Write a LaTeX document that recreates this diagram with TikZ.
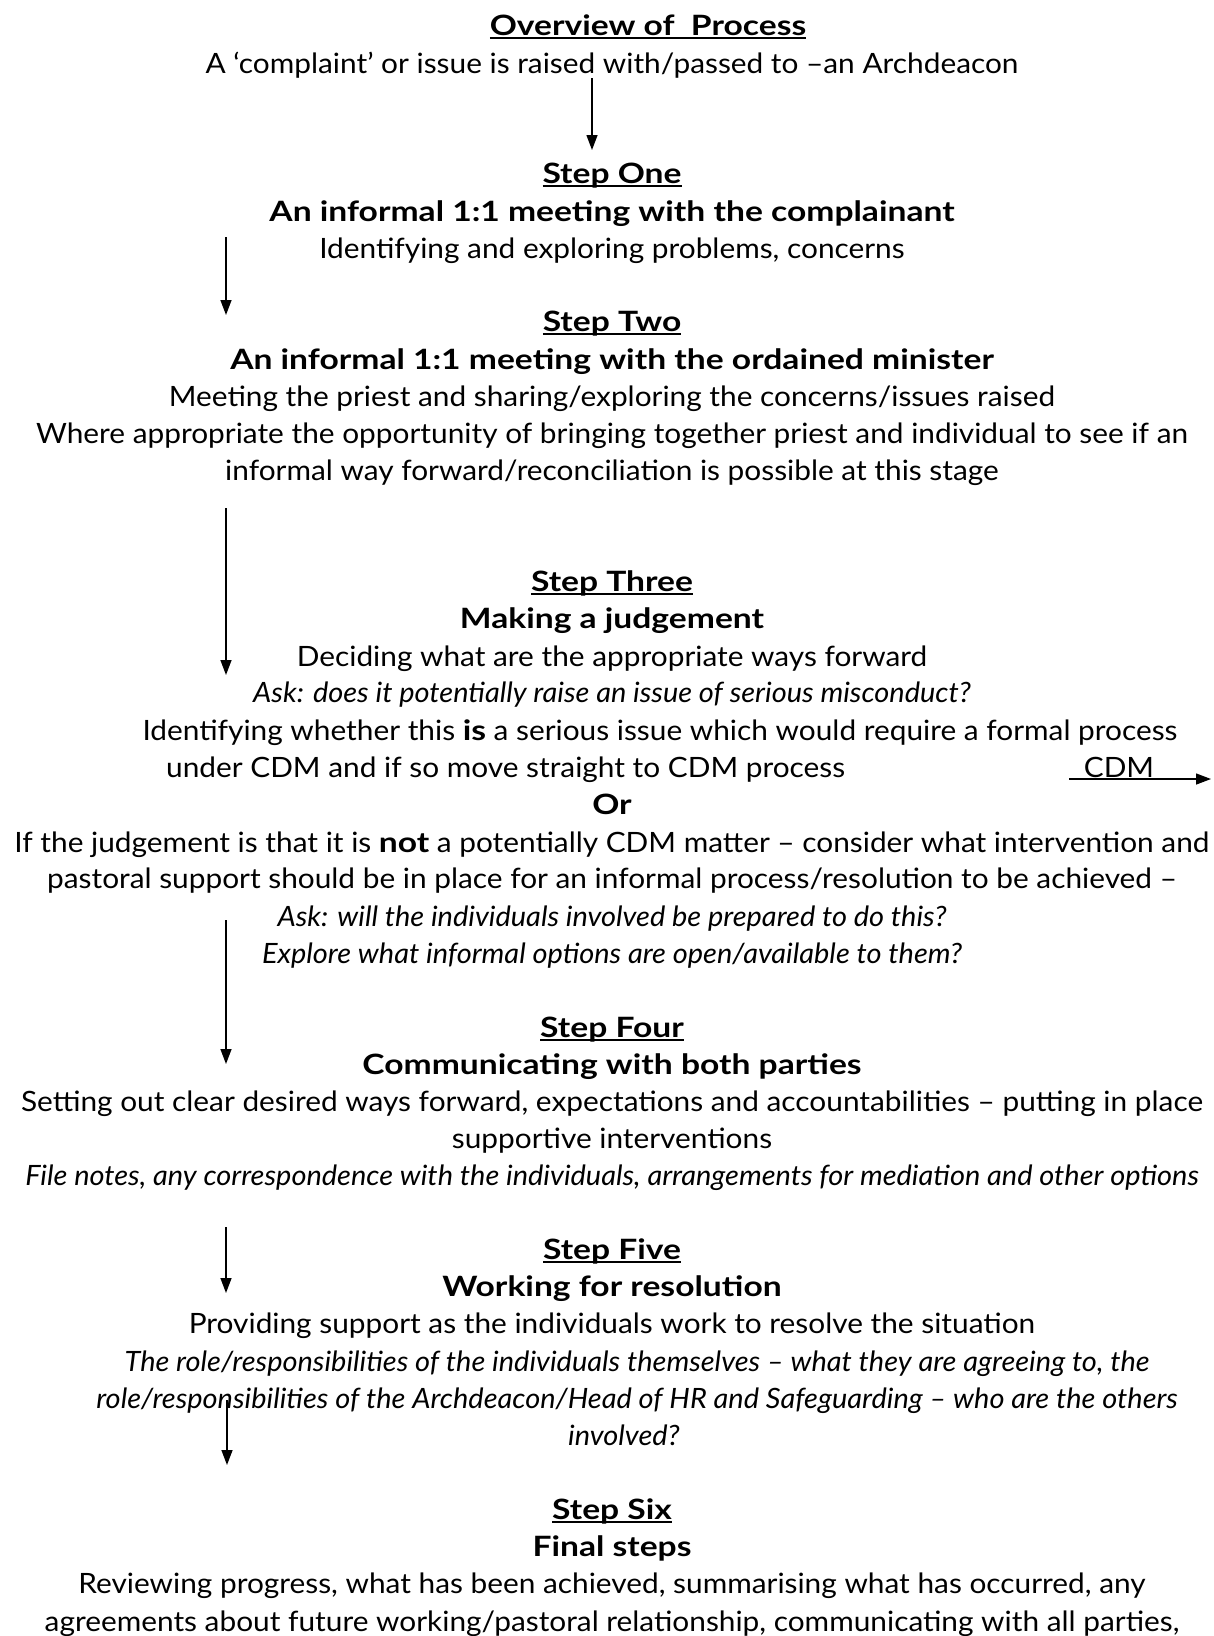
\documentclass[tikz,border=0pt]{standalone}
\usepackage{fontspec}
\setmainfont{Lato}[FakeStretch=1.065,
  ItalicFeatures={FakeStretch=1.034},
  BoldFeatures={FakeStretch=1.2}]
\usetikzlibrary{arrows.meta}
\newcommand\myul[1]{\setbox0\hbox{#1}\rlap{\rule[-4pt]{\wd0}{2pt}}\box0}
\begin{document}
\begin{tikzpicture}[x=1pt,y=-1pt,
  ln/.style={inner sep=0pt, anchor=base, font=\fontsize{28}{32}\selectfont},
  hd/.style={ln, font=\fontsize{28}{32}\selectfont\bfseries},
  it/.style={ln, font=\fontsize{28}{32}\selectfont\itshape},
  flow/.style={line width=1.4pt, -{Triangle[length=15pt,width=11pt]}}]
\useasboundingbox (0,0) rectangle (1213,1636);
\def\cx{612}
\node[hd] (ov) at (648,35) {\myul{Overview of\ \ Process}};
\node[ln] (a1) at (\cx,73) {A ‘complaint’ or issue is raised with/passed to –an Archdeacon};
\node[hd] (s1) at (\cx,183) {\myul{Step One}};
\node[hd] (s1b) at (\cx,221) {An informal 1:1 meeting with the complainant};
\node[ln] (s1c) at (\cx,258) {Identifying and exploring problems, concerns};
\node[hd] (s2) at (\cx,331) {\myul{Step Two}};
\node[hd] (s2b) at (\cx,369) {An informal 1:1 meeting with the ordained minister};
\node[ln] (s2c) at (\cx,406) {Meeting the priest and sharing/exploring the concerns/issues raised};
\node[ln] (s2d) at (\cx,443) {Where appropriate the opportunity of bringing together priest and individual to see if an};
\node[ln] (s2e) at (\cx,480) {informal way forward/reconciliation is possible at this stage};
\node[hd] (s3) at (\cx,591) {\myul{Step Three}};
\node[hd] (s3b) at (\cx,628) {Making a judgement};
\node[ln] (s3c) at (\cx,666) {Deciding what are the appropriate ways forward};
\node[it] (s3d) at (\cx,702) {Ask: does it potentially raise an issue of serious misconduct?};
\node[ln] (s3e) at (660,740) {Identifying whether this \textbf{is} a serious issue which would require a formal process};
\node[ln, anchor=base west] (s3f) at (166,777) {under CDM and if so move straight to CDM process};
\node[ln] (cdm) at (1119,777) {CDM};
\node[hd] (or) at (\cx,814) {Or};
\node[ln] (s3g) at (\cx,852) {If the judgement is that it is \textbf{not} a potentially CDM matter – consider what intervention and};
\node[ln] (s3h) at (\cx,888) {pastoral support should be in place for an informal process/resolution to be achieved –};
\node[it] (s3i) at (\cx,926) {Ask: will the individuals involved be prepared to do this?};
\node[it] (s3j) at (\cx,963) {Explore what informal options are open/available to them?};
\node[hd] (s4) at (\cx,1037) {\myul{Step Four}};
\node[hd] (s4b) at (\cx,1074) {Communicating with both parties};
\node[ln] (s4c) at (\cx,1111) {Setting out clear desired ways forward, expectations and accountabilities – putting in place};
\node[ln] (s4d) at (\cx,1148) {supportive interventions};
\node[it] (s4e) at (\cx,1185) {File notes, any correspondence with the individuals, arrangements for mediation and other options};
\node[hd] (s5) at (\cx,1259) {\myul{Step Five}};
\node[hd] (s5b) at (\cx,1296) {Working for resolution};
\node[ln] (s5c) at (\cx,1333) {Providing support as the individuals work to resolve the situation};
\node[it] (s5d) at (637,1371) {The role/responsibilities of the individuals themselves – what they are agreeing to, the};
\node[it] (s5e) at (637,1408) {role/responsibilities of the Archdeacon/Head of HR and Safeguarding – who are the others};
\node[it] (s5f) at (624,1445) {involved?};
\node[hd] (s6) at (\cx,1519) {\myul{Step Six}};
\node[hd] (s6b) at (\cx,1556) {Final steps};
\node[ln] (s6c) at (\cx,1593) {Reviewing progress, what has been achieved, summarising what has occurred, any};
\node[ln] (s6d) at (\cx,1631) {agreements about future working/pastoral relationship, communicating with all parties,};
% arrow end points
\coordinate (p0) at (592,78);   \coordinate (q0) at (592,150);
\coordinate (p1) at (226,237);  \coordinate (q1) at (226,315);
\coordinate (p2) at (226,508);  \coordinate (q2) at (226,675);
\coordinate (p3) at (226,920);  \coordinate (q3) at (226,1064);
\coordinate (p4) at (226,1227); \coordinate (q4) at (226,1293);
\coordinate (p5) at (227,1400); \coordinate (q5) at (227,1465);
\coordinate (pc) at (1069,779); \coordinate (qc) at (1211,779);
\draw[flow] (p0) -- (q0);
\draw[flow] (p1) -- (q1);
\draw[flow] (p2) -- (q2);
\draw[flow] (p3) -- (q3);
\draw[flow] (p4) -- (q4);
\draw[flow] (p5) -- (q5);
\draw[flow] (pc) -- (qc);
\end{tikzpicture}
\end{document}
